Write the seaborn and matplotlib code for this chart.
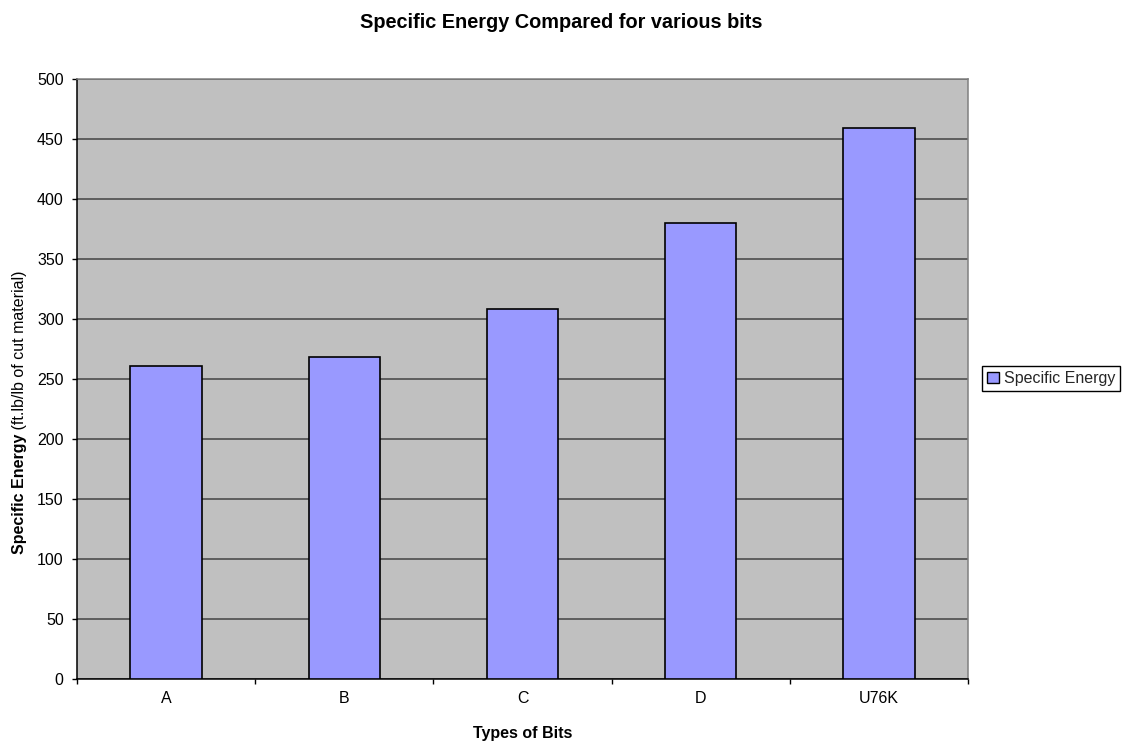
import matplotlib
matplotlib.use("Agg")
import matplotlib.pyplot as plt
from matplotlib.patches import Patch
from matplotlib.ticker import FixedLocator
import seaborn as sns
import pandas as pd

# Data
bits = ["A", "B", "C", "D", "U76K"]
specific_energy = [261, 268, 308, 380, 459]
y_ticks = list(range(0, 501, 50))

sns.set_theme(style="white")
plt.rcParams["font.family"] = ["Liberation Sans", "DejaVu Sans"]

W, H = 1127, 746
fig = plt.figure(figsize=(W / 100, H / 100), dpi=100)
ax = fig.add_axes([77 / W, 1 - 679 / H, 891 / W, 600 / H])

df = pd.DataFrame({"bit": bits, "energy": specific_energy})
sns.barplot(data=df, x="bit", y="energy", ax=ax, color="#9999FF",
            saturation=1, width=0.4, edgecolor="black", linewidth=1.2,
            zorder=3)

ax.set_facecolor("#C0C0C0")
ax.set_xlim(-0.5, len(bits) - 0.5)
ax.set_ylim(0, 500)
ax.set_yticks(y_ticks)
ax.yaxis.grid(True, color="#444444", linewidth=1.1, zorder=1)
ax.xaxis.grid(False)
ax.set_axisbelow(True)

for side in ("left", "bottom"):
    ax.spines[side].set_color("black")
    ax.spines[side].set_linewidth(1.1)
for side in ("top", "right"):
    ax.spines[side].set_color("#808080")
    ax.spines[side].set_linewidth(1.1)

# category separators as minor ticks, labels centred without tick marks
ax.xaxis.set_minor_locator(FixedLocator([i - 0.5 for i in range(len(bits) + 1)]))
ax.tick_params(axis="x", which="major", length=0, pad=8.6, labelsize=11.5, colors="black")
ax.tick_params(axis="x", which="minor", length=3.6, width=1, color="black", direction="out", bottom=True)
ax.tick_params(axis="y", which="major", length=3.6, width=1, color="black", direction="out",
               left=True, pad=6.0, labelsize=11.5, labelcolor="black")

ax.set_xlabel("Types of Bits", fontsize=11.5, fontweight="bold", labelpad=14.5, color="black")
ax.set_ylabel("")

# y-axis title: bold name followed by regular unit text
ylab = fig.text(20 / W, 1 - 554 / H, "Specific Energy", rotation=90, fontsize=11.5,
                fontweight="bold", ha="center", va="bottom", color="black")
ax.annotate(" (ft.lb/lb of cut material)", xy=(0.5, 1.0), xycoords=ylab,
            rotation=90, fontsize=11.5, ha="center", va="bottom", color="black",
            annotation_clip=False)

fig.text(561 / W, 1 - 22 / H, "Specific Energy Compared for various bits",
         fontsize=14.3, fontweight="bold", ha="center", va="center", color="black")

handle = Patch(facecolor="#9999FF", edgecolor="black", linewidth=1)
leg = fig.legend([handle], ["Specific Energy"], loc="center left",
                 bbox_to_anchor=(982 / W, 1 - 378.5 / H), fontsize=11.5,
                 frameon=True, fancybox=False, framealpha=1, edgecolor="black",
                 handlelength=0.75, handleheight=0.75, handletextpad=0.3,
                 borderpad=0.3, borderaxespad=0)
leg.get_frame().set_linewidth(1)

fig.savefig("out.png", dpi=100, facecolor="white")
